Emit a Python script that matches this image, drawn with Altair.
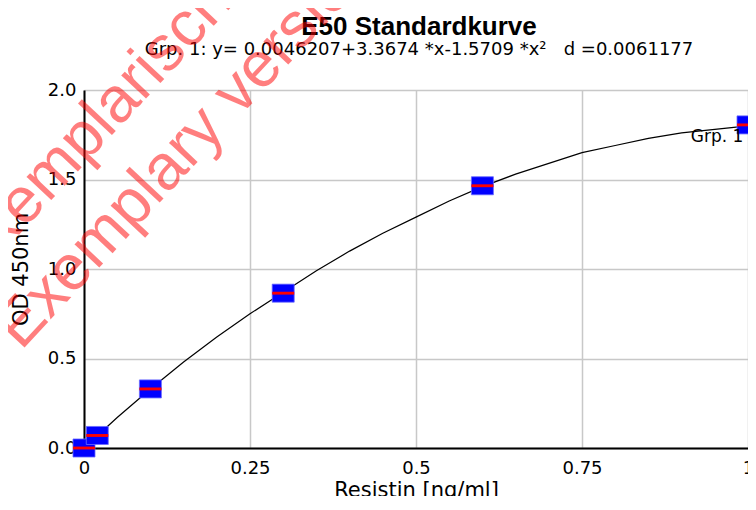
import altair as alt
import pandas as pd

# Standards (Resistin ng/ml vs OD 450nm)
conc = [0.0, 0.02, 0.1, 0.3, 0.6, 1.0]
od = [0.00, 0.07, 0.33, 0.865, 1.465, 1.805]

# Fitted curve
curve_x = [0.0, 0.05, 0.1, 0.15, 0.2, 0.25, 0.3, 0.35, 0.4, 0.45, 0.5,
           0.55, 0.6, 0.65, 0.7, 0.75, 0.8, 0.85, 0.9, 0.95, 1.0]
curve_y = [0.00, 0.17, 0.33, 0.48, 0.62, 0.75, 0.87, 0.99, 1.10, 1.20, 1.29,
           1.38, 1.46, 1.53, 1.59, 1.65, 1.69, 1.73, 1.76, 1.78, 1.80]

x_ticks = [0, 0.25, 0.5, 0.75, 1]
y_ticks = [0.0, 0.5, 1.0, 1.5, 2.0]

title_text = "E50 Standardkurve"
subtitle_text = "Grp. 1: y= 0.0046207+3.3674 *x-1.5709 *x²\u00a0\u00a0\u00a0d =0.0061177"

label_text = ["Grp. 1"]
label_x = [0.993]
label_y = [1.71]

wm_text = ["Exemplarische Version", "Exemplary version"]
wm_x = [-0.167, -0.095]
wm_y = [0.917, 0.54]

pts = pd.DataFrame({"conc": conc, "od": od})
curve = pd.DataFrame({"conc": curve_x, "od": curve_y})
lab = pd.DataFrame({"conc": label_x, "od": label_y, "t": label_text})
wm = pd.DataFrame({"conc": wm_x, "od": wm_y, "t": wm_text})
ttl = pd.DataFrame({"t": [title_text]})
sub = pd.DataFrame({"t": [subtitle_text]})

FONT = "DejaVu Sans"
W, H = 664, 358

xs = alt.Scale(domain=[0, 1], nice=False, zero=False)
ys = alt.Scale(domain=[0, 2], nice=False, zero=False)

x_enc = alt.X("conc:Q", scale=xs, axis=alt.Axis(
    values=x_ticks, format="~g", title="Resistin [ng/ml]",
    ticks=False, labelPadding=11, titlePadding=2,
    labelFont=FONT, labelFontSize=18, labelColor="#000000",
    titleFont=FONT, titleFontSize=21, titleFontWeight="normal", titleColor="#000000",
    domainColor="#000000", domainWidth=2,
    gridColor="#c8c8c8", gridWidth=1.5, labelFlush=False))
y_enc = alt.Y("od:Q", scale=ys, axis=alt.Axis(
    values=y_ticks, format=".1f", title="OD 450nm",
    ticks=False, labelPadding=8, titlePadding=16,
    labelFont=FONT, labelFontSize=18, labelColor="#000000",
    titleFont=FONT, titleFontSize=21, titleFontWeight="normal", titleColor="#000000",
    domainColor="#000000", domainWidth=2,
    gridColor="#c8c8c8", gridWidth=1.5, labelFlush=False))

line = alt.Chart(curve).mark_line(color="#000000", strokeWidth=1.2).encode(x=x_enc, y=y_enc)

box = alt.Chart(pts).mark_point(
    shape="M-1,-0.82H1V0.82H-1Z", filled=True, fill="#0000ff", stroke="#6a6aff",
    strokeWidth=0.8, opacity=1, size=484
).encode(x="conc:Q", y="od:Q")

bar = alt.Chart(pts).mark_point(
    shape="M-1,-0.13H1V0.13H-1Z", filled=True, fill="#ff0000", opacity=1, size=484
).encode(x="conc:Q", y="od:Q")

txt = alt.Chart(lab).mark_text(
    font=FONT, fontSize=17, align="right", baseline="alphabetic", color="#000000"
).encode(x="conc:Q", y="od:Q", text="t:N")

title_mark = alt.Chart(ttl).mark_text(
    font="Liberation Sans", fontSize=26, fontWeight="bold", align="center",
    baseline="alphabetic", color="#000000"
).encode(x=alt.value(W / 2 + 3), y=alt.value(-55), text="t:N")

sub_mark = alt.Chart(sub).mark_text(
    font=FONT, fontSize=18, align="center", baseline="alphabetic", color="#000000"
).encode(x=alt.value(W / 2 + 3), y=alt.value(-35), text="t:N")

water = alt.Chart(wm).mark_text(
    font="Liberation Sans", fontSize=64, align="left", baseline="alphabetic",
    angle=313, color="#ff0000", opacity=0.5
).encode(x="conc:Q", y="od:Q", text="t:N")

chart = alt.layer(line, box, bar, txt, title_mark, sub_mark, water).properties(
    width=W, height=H,
    autosize=alt.AutoSizeParams(type="none"),
    padding={"left": 76, "top": 82, "right": 0, "bottom": 48},
).configure_view(stroke=None).configure(background="#ffffff")

chart.save("out.html", embed_options={"renderer": "svg", "actions": False})
